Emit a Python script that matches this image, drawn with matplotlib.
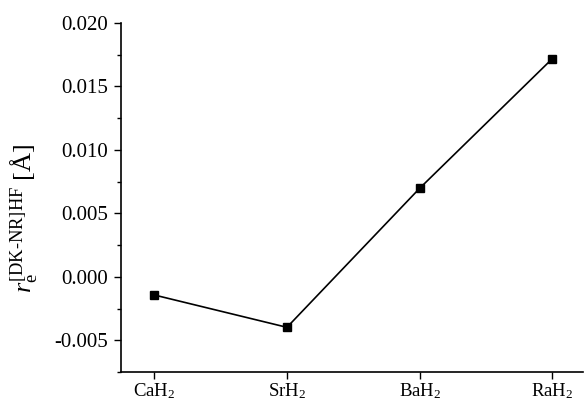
import matplotlib
matplotlib.use("Agg")
import matplotlib.pyplot as plt
from matplotlib.ticker import MultipleLocator, FuncFormatter

categories = ["CaH$_2$", "SrH$_2$", "BaH$_2$", "RaH$_2$"]
values = [-0.00143, -0.00398, 0.00698, 0.01720]

plt.rcParams['font.family'] = ['Liberation Serif', 'DejaVu Serif']
plt.rcParams['mathtext.fontset'] = 'custom'
plt.rcParams['mathtext.rm'] = 'Liberation Serif'
plt.rcParams['mathtext.it'] = 'Liberation Serif:italic'

fig = plt.figure(figsize=(5.85, 4.01), dpi=100)
ax = fig.add_axes([121/585, 29/401, (583-121)/585, (372-23)/401])

x = list(range(len(categories)))
ax.plot(x, values, color='black', lw=1.2, marker='s', ms=5.5, mfc='black', mec='black')

ax.set_xlim(-0.25, 3.23)
ax.set_ylim(-0.0075, 0.020)
ax.set_xticks(x)
ax.set_xticklabels(categories, fontsize=13.5)
ax.yaxis.set_major_locator(MultipleLocator(0.005))
ax.yaxis.set_minor_locator(MultipleLocator(0.0025))
ax.yaxis.set_major_formatter(FuncFormatter(lambda v, p: f"{v:.3f}".replace("-0.000", "0.000")))
ax.tick_params(axis='y', which='major', length=5, width=1, labelsize=15, direction='out', pad=4)
ax.tick_params(axis='y', which='minor', length=3, width=1, direction='out')
ax.tick_params(axis='x', which='major', length=5, width=1, labelsize=13.5, direction='out', pad=1.5)

for s in ['top', 'right']:
    ax.spines[s].set_visible(False)
for s in ['left', 'bottom']:
    ax.spines[s].set_linewidth(1.2)

ax.set_ylabel(r'$r_{\mathrm{e}}^{\mathrm{[DK}\text{-}\mathrm{NR]HF}}$ [Å]', fontsize=19)
ax.yaxis.set_label_coords(-0.175, 0.44)

fig.savefig("out.png", dpi=100)
